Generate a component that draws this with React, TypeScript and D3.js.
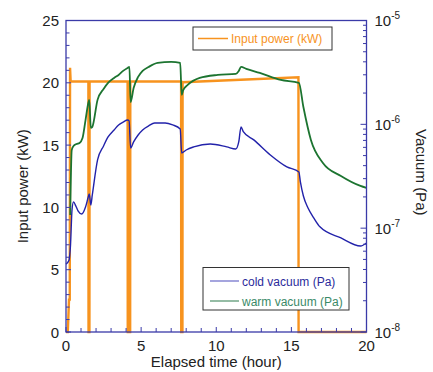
import React from 'react';
import * as d3 from 'd3';

// Input power (kW)
const powerTime = [0, 0.12, 0.2, 0.25, 0.27, 0.31, 1.49, 1.5, 1.56, 1.57, 4.1, 4.11, 4.14, 4.15, 4.17, 4.18, 4.21, 4.22, 4.24, 4.25, 4.27, 4.28, 7.66, 7.67, 7.7, 7.71, 7.72, 7.73, 7.75, 7.76, 15.47, 15.48, 20];
const powerKW = [0, 0, 2.6, 2.6, 21.2, 20.1, 20.1, 0, 0, 20.1, 20.1, 0, 0, 20.1, 20.1, 0, 0, 20.1, 20.1, 0, 0, 20.1, 20.1, 0, 0, 20.05, 20.05, 0, 0, 20.05, 20.45, 0, 0];

// cold vacuum (Pa)
const coldTime = [0, 0.2, 0.3, 0.4, 0.5, 0.65, 0.8, 1.05, 1.3, 1.5, 1.55, 1.65, 1.75, 2.1, 2.5, 2.8, 3.2, 3.5, 3.8, 4.1, 4.2, 4.3, 4.5, 4.8, 5.1, 5.5, 5.9, 6.6, 7.1, 7.6, 7.7, 8.0, 8.5, 9.6, 10.7, 11.3, 11.5, 11.65, 11.8, 12.5, 13.6, 14.7, 15.5, 15.6, 15.8, 16.1, 16.5, 16.9, 18.3, 19.6, 20];
const coldPa = [4.5e-8, 4.9e-8, 6.9e-8, 1.5e-7, 1.79e-7, 1.64e-7, 1.47e-7, 1.37e-7, 1.6e-7, 2.04e-7, 2.14e-7, 1.67e-7, 2.09e-7, 4.54e-7, 6.19e-7, 7.56e-7, 8.83e-7, 9.87e-7, 1.05e-6, 1.1e-6, 1.08e-6, 5.92e-7, 6.77e-7, 7.9e-7, 8.83e-7, 9.66e-7, 1.03e-6, 1.03e-6, 9.87e-7, 9.03e-7, 5.3e-7, 5.66e-7, 6.06e-7, 6.47e-7, 6.06e-7, 5.79e-7, 6.8e-7, 9.44e-7, 8.5e-7, 7.08e-7, 5.07e-7, 3.89e-7, 3.48e-7, 2.79e-7, 2.04e-7, 1.57e-7, 1.25e-7, 1.03e-7, 8.05e-8, 6.74e-8, 7.2e-8];

// warm vacuum (Pa)
const warmTime = [0.28, 0.38, 0.5, 0.7, 0.9, 1.1, 1.3, 1.5, 1.55, 1.65, 1.75, 2.1, 2.5, 2.8, 3.2, 3.5, 3.8, 4.1, 4.22, 4.3, 4.5, 4.8, 5.1, 5.5, 6.1, 7.0, 7.6, 7.7, 7.8, 8.1, 8.9, 10.1, 11.3, 11.5, 11.65, 12.0, 12.9, 14.3, 15.5, 15.8, 16.3, 17.1, 18.3, 19.6, 20];
const warmPa = [1.34e-7, 5.66e-7, 6.19e-7, 6.47e-7, 6.62e-7, 7.39e-7, 1.1e-6, 1.64e-6, 1.72e-6, 9.23e-7, 9.44e-7, 1.72e-6, 2.19e-6, 2.51e-6, 2.8e-6, 2.99e-6, 3.27e-6, 3.49e-6, 3.57e-6, 1.64e-6, 2.24e-6, 2.86e-6, 3.27e-6, 3.57e-6, 3.9e-6, 3.99e-6, 3.9e-6, 1.92e-6, 2.14e-6, 2.4e-6, 2.8e-6, 2.99e-6, 3.06e-6, 3.27e-6, 3.57e-6, 3.42e-6, 3.13e-6, 2.68e-6, 2.51e-6, 1.47e-6, 7.08e-7, 4.25e-7, 3.18e-7, 2.55e-7, 2.44e-7];

const xTickLabels = [0, 5, 10, 15, 20];
const leftTickLabels = [0, 5, 10, 15, 20, 25];
const rightTickExponents = [-8, -7, -6, -5];

const W = 433;
const H = 372;
const L = 66, R = 366.5, T = 20.5, B = 332;
const AXIS = '#3a3aa8';
const ORANGE = '#f7931e';
const BLUE = '#2222aa';
const GREEN = '#1c7430';
const FONT = '"Liberation Sans", Arial, sans-serif';

export default function App() {
  const x = d3.scaleLinear().domain([0, 20]).range([L, R]);
  const yL = d3.scaleLinear().domain([0, 25]).range([B, T]);
  const yR = d3.scaleLog().domain([1e-8, 1e-5]).range([B, T]);

  const powerLine = d3.line<number>().x((_, i) => x(powerTime[i])).y((d) => yL(d));
  const coldLine = d3.line<number>().x((_, i) => x(coldTime[i])).y((d) => yR(d)).curve(d3.curveMonotoneX);
  const warmLine = d3.line<number>().x((_, i) => x(warmTime[i])).y((d) => yR(d)).curve(d3.curveMonotoneX);

  const hourTicks = d3.range(0, 21);
  const kwTicks = d3.range(0, 26);
  const logMinor: number[] = [];
  for (let e = -8; e < -5; e++) for (let m = 2; m <= 9; m++) logMinor.push(m * Math.pow(10, e));

  return (
    <svg width={W} height={H} style={{ position: 'absolute', left: 0, top: 0, background: '#fff' }} fontFamily={FONT}>
      <rect x={0} y={0} width={W} height={H} fill="#fff" />
      {/* data */}
      <path d={powerLine(powerKW) || ''} fill="none" stroke={ORANGE} strokeWidth={2.4} strokeLinejoin="miter" />
      <path d={coldLine(coldPa) || ''} fill="none" stroke={BLUE} strokeWidth={1.4} />
      <path d={warmLine(warmPa) || ''} fill="none" stroke={GREEN} strokeWidth={1.8} />

      {/* frame */}
      <rect x={L} y={T} width={R - L} height={B - T} fill="none" stroke={AXIS} strokeWidth={1.3} />

      {/* bottom ticks */}
      {hourTicks.map((h) => (
        <line key={'xt' + h} x1={x(h)} x2={x(h)} y1={B} y2={B - (h % 5 === 0 ? 5 : 4)} stroke={AXIS} strokeWidth={1} />
      ))}
      {xTickLabels.map((h) => (
        <text key={'xl' + h} x={x(h)} y={B + 19} textAnchor="middle" fontSize={15} fill="#222">{h}</text>
      ))}

      {/* left ticks */}
      {kwTicks.map((k) => (
        <line key={'lt' + k} x1={L} x2={L + (k % 5 === 0 ? 5 : 3.5)} y1={yL(k)} y2={yL(k)} stroke={AXIS} strokeWidth={1} />
      ))}
      {leftTickLabels.map((k) => (
        <text key={'ll' + k} x={L - 7} y={yL(k) + 5.5} textAnchor="end" fontSize={15} fill="#222">{k}</text>
      ))}

      {/* right ticks */}
      {rightTickExponents.map((e) => (
        <line key={'rt' + e} x1={R} x2={R - 6} y1={yR(Math.pow(10, e))} y2={yR(Math.pow(10, e))} stroke={AXIS} strokeWidth={1} />
      ))}
      {logMinor.map((v, i) => (
        <line key={'rm' + i} x1={R} x2={R - 3.5} y1={yR(v)} y2={yR(v)} stroke={AXIS} strokeWidth={1} />
      ))}
      {rightTickExponents.map((e) => (
        <text key={'rl' + e} x={R + 8} y={yR(Math.pow(10, e)) + 5.5} fontSize={15} fill="#222">
          10<tspan dy={-7} fontSize={10}>{e}</tspan>
        </text>
      ))}

      {/* axis titles */}
      <text x={(L + R) / 2} y={367} textAnchor="middle" fontSize={15} fill="#222">Elapsed time (hour)</text>
      <text transform={`translate(28,${(T + B) / 2 + 10}) rotate(-90)`} textAnchor="middle" fontSize={15} fill="#222">Input power (kW)</text>
      <text transform={`translate(416,${(T + B) / 2 - 4}) rotate(90)`} textAnchor="middle" fontSize={15} fill="#222">Vacuum (Pa)</text>

      {/* legend: input power */}
      <rect x={193} y={27} width={139} height={23} fill="#fff" stroke="#333" strokeWidth={1} />
      <line x1={198} x2={228} y1={38.5} y2={38.5} stroke={ORANGE} strokeWidth={1.5} />
      <text x={231} y={43} fontSize={12} fill={ORANGE}>Input power (kW)</text>

      {/* legend: vacuum */}
      <rect x={203} y={267.5} width={146} height={42.5} fill="#fff" stroke="#333" strokeWidth={1} />
      <line x1={210} x2={239} y1={281} y2={281} stroke="#6a6ac8" strokeWidth={1.2} />
      <text x={242} y={285.5} fontSize={12} fill="#2b2b9c">cold vacuum (Pa)</text>
      <line x1={210} x2={239} y1={301} y2={301} stroke="#4f8f6a" strokeWidth={1.2} />
      <text x={242} y={305.5} fontSize={12} fill="#3a8a68">warm vacuum (Pa)</text>
    </svg>
  );
}
